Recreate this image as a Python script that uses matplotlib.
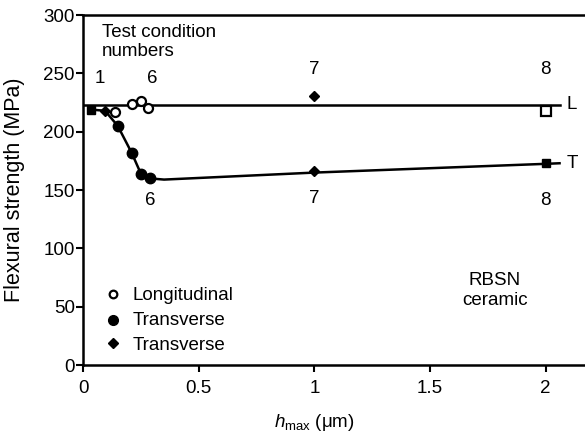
import numpy as np
import matplotlib
matplotlib.use("Agg")
import matplotlib.pyplot as plt

plt.rcParams['font.family'] = ['Liberation Sans', 'DejaVu Sans']
plt.rcParams['mathtext.fontset'] = 'custom'
plt.rcParams['mathtext.rm'] = 'Liberation Sans'
plt.rcParams['mathtext.it'] = 'Liberation Sans:italic'

# Data
long_x = [0.14, 0.21, 0.25, 0.28]
long_y = [217, 224, 226, 220]
long_sq_x = [2.0]
long_sq_y = [218]
L_level = 223

trans_x = [0.15, 0.21, 0.25, 0.29]
trans_y = [205, 182, 164, 160]
diam_x = [0.095, 1.0, 1.0]
diam_y = [218, 231, 166]
trans_sq_x = [0.035, 2.0]
trans_sq_y = [219, 173]

# T trend curve
curve_x = [0.035, 0.095, 0.15, 0.21, 0.25, 0.29, 0.35, 1.0, 2.0, 2.06]
curve_y = [219, 218, 205, 182, 164, 160, 159, 165, 172.5, 173]

fig = plt.figure(figsize=(5.85, 4.32), dpi=100)
ax = fig.add_axes([0.142, 0.155, 0.858, 0.81])

ax.plot([0, 2.06], [L_level, L_level], color='black', lw=1.8, zorder=2)
ax.plot(curve_x, curve_y, color='black', lw=1.8, zorder=2)

ax.plot(long_x, long_y, 'o', mfc='white', mec='black', mew=1.6, ms=6.5, zorder=3)
ax.plot(long_sq_x, long_sq_y, 's', mfc='white', mec='black', mew=1.6, ms=7, zorder=3)
ax.plot(trans_x, trans_y, 'o', color='black', ms=7.5, zorder=3)
ax.plot(diam_x, diam_y, 'D', color='black', ms=5.5, zorder=3)
ax.plot(trans_sq_x, trans_sq_y, 's', color='black', ms=6, zorder=3)

fs = 13.5

# legend drawn by hand
lx = 0.13
ax.plot([lx], [61], 'o', mfc='white', mec='black', mew=1.6, ms=5.5)
ax.plot([lx], [39], 'o', color='black', ms=7)
ax.plot([lx], [19], 'D', color='black', ms=5)
ax.text(0.215, 60, 'Longitudinal', fontsize=fs, va='center')
ax.text(0.215, 38, 'Transverse', fontsize=fs, va='center')
ax.text(0.215, 17, 'Transverse', fontsize=fs, va='center')

# annotations
ax.text(0.08, 292, 'Test condition\nnumbers', fontsize=fs, va='top', linespacing=1.1)
for x, y, s in [(0.074, 246, '1'), (0.3, 246, '6'), (1.0, 253, '7'), (2.0, 253, '8'),
                (0.29, 141, '6'), (1.0, 143, '7'), (2.0, 141, '8')]:
    ax.text(x, y, s, fontsize=fs, ha='center', va='center')
ax.text(2.09, L_level, 'L', fontsize=fs, va='center')
ax.text(2.09, 173, 'T', fontsize=fs, va='center')
ax.text(1.78, 64, 'RBSN\nceramic', fontsize=fs, ha='center', va='center', linespacing=1.2)

ax.set_xlim(0, 2.17)
ax.set_ylim(0, 300)
ax.set_xticks([0, 0.5, 1, 1.5, 2])
ax.set_xticklabels(['0', '0.5', '1', '1.5', '2'])
ax.set_yticks(range(0, 301, 50))
ax.tick_params(direction='out', length=5, width=1.5, labelsize=fs, pad=1)
ax.tick_params(axis='x', pad=6)
for side in ['left', 'bottom', 'top']:
    ax.spines[side].set_linewidth(1.8)
ax.spines['right'].set_visible(False)

ax.set_ylabel('Flexural strength (MPa)', fontsize=15.5)
ax.set_xlabel(r'$h_{\rm max}$ (μm)', fontsize=fs)
ax.yaxis.set_label_coords(-0.115, 0.5)
ax.xaxis.set_label_coords(0.46, -0.135)

fig.savefig('out.png', dpi=100)
